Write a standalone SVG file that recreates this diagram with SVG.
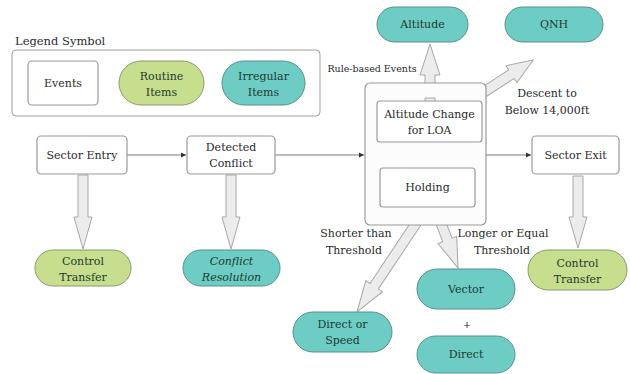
<svg xmlns="http://www.w3.org/2000/svg" width="630" height="374" viewBox="0 0 630 374" font-family="'DejaVu Serif','Liberation Serif',serif">
<defs>
<style>
text{font-family:"DejaVu Serif","Liberation Serif",serif;fill:#2a2a2a;text-anchor:middle}
.t{font-size:11px}
.g text,.q text{fill:#1e3a30}
.ev{fill:#fff;stroke:#9a9a9a;stroke-width:1.2}
.rt{fill:#c6de8e;stroke:#8a9a70;stroke-width:1}
.ir{fill:#6dcdc5;stroke:#5a8f8a;stroke-width:1}
.ba{fill:#ececec;stroke:#a8a8a8;stroke-width:1}
.ln{stroke:#7a7a7a;stroke-width:1;fill:none;marker-end:url(#ah)}
</style>
<marker id="ah" markerWidth="6" markerHeight="6" refX="5" refY="3" orient="auto" markerUnits="userSpaceOnUse">
<path d="M0,0.5 L5,3 L0,5.5 z" fill="#333"/>
</marker>
</defs>
<rect width="630" height="374" fill="#fff"/>

<g id="legend">
<text x="15" y="45" style="text-anchor:start;font-size:11.5px">Legend Symbol</text>
<rect x="12" y="50" width="308" height="66" rx="4" fill="#fff" stroke="#a0a0a0" stroke-width="1"/>
<g id="leg-events"><rect class="ev" x="28" y="61" width="70" height="44" rx="4"/><text class="t" x="63" y="87">Events</text></g>
<g id="leg-routine" class="g"><rect class="rt" x="119" y="61" width="85" height="44" rx="22"/><text class="t" x="161.5" y="80">Routine</text><text class="t" x="161.5" y="96">Items</text></g>
<g id="leg-irregular" class="q"><rect class="ir" x="222" y="61" width="83" height="44" rx="22"/><text class="t" x="263.5" y="80">Irregular</text><text class="t" x="263.5" y="96">Items</text></g>
</g>

<g id="connectors">
<line class="ln" x1="127" y1="155" x2="186" y2="155"/>
<line class="ln" x1="275" y1="155" x2="364" y2="155"/>
<line class="ln" x1="486" y1="155" x2="531" y2="155"/>
<polygon class="ba" points="78,175 88,175 88,217 92,217 83,249 74,217 78,217"/>
<polygon class="ba" points="226,175 236,175 236,217 240,217 231,249 222,217 226,217"/>
<polygon class="ba" points="573,176 583,176 583,217 587,217 578,248 569,217 573,217"/>
<polygon class="ba" points="425,103 435,103 435,75 440,75 430,44 420,75 425,75"/>
<polygon class="ba" transform="translate(467,103) rotate(-33)" points="0,-5 53,-5 53,-10 79,0 53,10 53,5 0,5"/>
<polygon class="ba" transform="translate(423,213) rotate(123.7)" points="0,-5 88,-5 88,-10 119,0 88,10 88,5 0,5"/>
<polygon class="ba" transform="translate(436,210) rotate(69.2)" points="0,-5 32,-5 32,-10 62,0 32,10 32,5 0,5"/>
</g>

<g id="sector-entry"><rect class="ev" x="37" y="136" width="90" height="38" rx="4"/><text class="t" x="82" y="159">Sector Entry</text></g>
<g id="detected-conflict"><rect class="ev" x="187" y="136" width="88" height="38" rx="4"/><text class="t" x="231" y="151">Detected</text><text class="t" x="231" y="167">Conflict</text></g>

<g id="rule-based">
<rect x="365" y="83" width="121" height="142" rx="5" fill="#fcfcfc" stroke="#9a9a9a" stroke-width="1.2"/>
</g>
<polygon class="ba" points="425,103 435,103 435,98 425,98"/>
<text x="372" y="72" style="text-anchor:middle;font-size:9.5px">Rule-based Events</text>
<g id="altitude-change"><rect class="ev" x="377" y="101" width="105" height="41" rx="3"/><text class="t" x="429.5" y="118">Altitude Change</text><text class="t" x="429.5" y="134">for LOA</text></g>
<g id="holding"><rect class="ev" x="380" y="168" width="95" height="39" rx="3"/><text class="t" x="427.5" y="191">Holding</text></g>

<g id="sector-exit"><rect class="ev" x="532" y="136" width="87" height="38" rx="4"/><text class="t" x="575.5" y="159">Sector Exit</text></g>

<g id="altitude" class="q"><rect class="ir" x="377" y="7" width="91" height="35" rx="17.5"/><text class="t" x="422.5" y="28">Altitude</text></g>
<g id="qnh" class="q"><rect class="ir" x="505" y="7" width="98" height="35" rx="17.5"/><text class="t" x="554" y="28">QNH</text></g>

<text class="t" x="547" y="97">Descent to</text>
<text class="t" x="547" y="114">Below 14,000ft</text>

<g id="control-transfer-1" class="g"><rect class="rt" x="35" y="250" width="96" height="36" rx="18"/><text class="t" x="83" y="265">Control</text><text class="t" x="83" y="281">Transfer</text></g>
<g id="conflict-resolution" class="q"><rect class="ir" x="183" y="250" width="97" height="36" rx="18"/><text class="t" x="231.5" y="265" font-style="italic">Conflict</text><text class="t" x="231.5" y="281" font-style="italic">Resolution</text></g>

<text class="t" x="356" y="237">Shorter than</text>
<text class="t" x="354" y="254">Threshold</text>
<text class="t" x="503" y="237">Longer or Equal</text>
<text class="t" x="502" y="254">Threshold</text>

<g id="control-transfer-2" class="g"><rect class="rt" x="528" y="250" width="99" height="40" rx="20"/><text class="t" x="577.5" y="267">Control</text><text class="t" x="577.5" y="283">Transfer</text></g>
<g id="vector" class="q"><rect class="ir" x="417" y="269" width="98" height="40" rx="20"/><text class="t" x="466" y="293">Vector</text></g>
<text x="467" y="328" style="font-size:10px">+</text>
<g id="direct" class="q"><rect class="ir" x="417" y="336" width="98" height="37" rx="18.5"/><text class="t" x="466" y="358">Direct</text></g>
<g id="direct-or-speed" class="q"><rect class="ir" x="293" y="312" width="99" height="40" rx="20"/><text class="t" x="342.5" y="328">Direct or</text><text class="t" x="342.5" y="344">Speed</text></g>
</svg>
